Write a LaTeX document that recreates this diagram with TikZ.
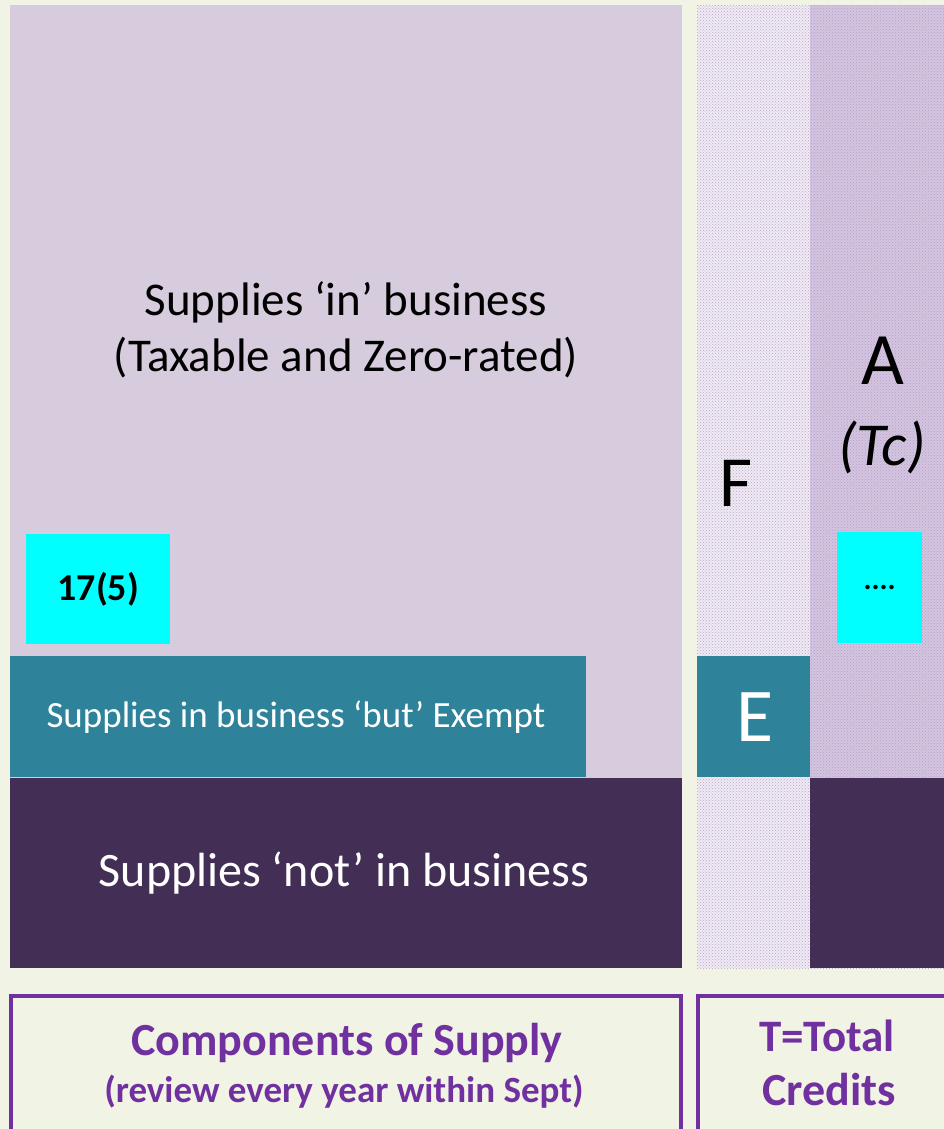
\documentclass[tikz,border=0pt]{standalone}
\usepackage{fontspec}
\setmainfont{Carlito}
\usetikzlibrary{patterns}
\definecolor{bgc}{HTML}{F1F4E4}
\definecolor{lav}{HTML}{D7CCDD}
\definecolor{fcol}{HTML}{EFEAF3}
\definecolor{acol}{HTML}{D3C5DF}
\definecolor{dark}{HTML}{432F55}
\definecolor{teal}{HTML}{2E8299}
\definecolor{cyanb}{HTML}{00FFFF}
\definecolor{purp}{HTML}{7030A0}
\tikzset{
  panel/.style={fill=#1, draw=none},
  wtext/.style={text=white, align=center, inner sep=0pt},
  btext/.style={text=black, align=center, inner sep=0pt},
  frame/.style={draw=purp, line width=3.5pt, fill=none},
  ptext/.style={text=purp, font=\bfseries, align=center, inner sep=0pt},
}
\newcommand{\fs}[1]{\fontsize{#1}{#1}\selectfont}
\begin{document}
\begin{tikzpicture}[x=1pt,y=-1pt]
\path[use as bounding box, fill=bgc] (0,0) rectangle (944,1129);
\begin{scope}
\clip (0,0) rectangle (944,1129);
% main panel
\path[panel=lav] (10,5) rectangle (682,968);
% F column
\path[panel=fcol] (697,5) rectangle (810,968);
\path[pattern=crosshatch dots, pattern color=lav!75!purp] (697,5) rectangle (810,968);
% A column
\path[panel=acol] (810,5) rectangle (944,968);
\path[pattern=crosshatch dots, pattern color=lav!70!purp] (810,5) rectangle (944,968);
% dark bottoms
\path[panel=dark] (10,778) rectangle (682,968);
\path[panel=dark] (810,778) rectangle (944,968);
% teal
\path[panel=teal] (10,656) rectangle (586,777);
\path[panel=teal] (697,656) rectangle (810,777);
% cyan
\node[panel=cyanb, minimum width=144pt, minimum height=110pt, anchor=north west, inner sep=0pt] (c1) at (26,534) {};
\node[panel=cyanb, minimum width=85pt, minimum height=111pt, anchor=north west, inner sep=0pt] (c2) at (837,532) {};
\node[btext, font=\bfseries\fs{38}] (t175) at (c1.center) {17(5)};
\node[btext, font=\bfseries\fs{30}] (tdots) at (c2.center) {....};
% texts
\node[btext, font=\fs{47}] (in1) at (346,302) {Supplies ‘in’ business};
\node[btext, font=\fs{47}] (in2) at (346,358) {(Taxable and Zero-rated)};
\node[btext, font=\fs{74}] (A) at (883,361) {A};
\node[btext, font=\itshape\fs{61}] (Tc) at (882,447) {(Tc)};
\node[btext, font=\fs{72}] (F) at (736,483) {F};
\node[wtext, font=\fs{37}] (ex) at (296,717) {Supplies in business ‘but’ Exempt};
\node[wtext, font=\fs{76}] (E) at (755,717) {E};
\node[wtext, font=\fs{48}] (not) at (344,873) {Supplies ‘not’ in business};
% bottom frames
\draw[frame] (11,996) rectangle (681,1150);
\draw[frame] (698,996) rectangle (960,1150);
\node[ptext, font=\bfseries\fs{46}] (cs) at (347,1043) {Components of Supply};
\node[ptext, font=\bfseries\fs{37}] (rv) at (344,1092) {(review every year within Sept)};
\node[ptext, font=\bfseries\fs{45}] (tt) at (827,1036) {T=Total};
\node[ptext, font=\bfseries\fs{46}] (cr) at (829,1090) {Credits};
\end{scope}
\end{tikzpicture}
\end{document}
